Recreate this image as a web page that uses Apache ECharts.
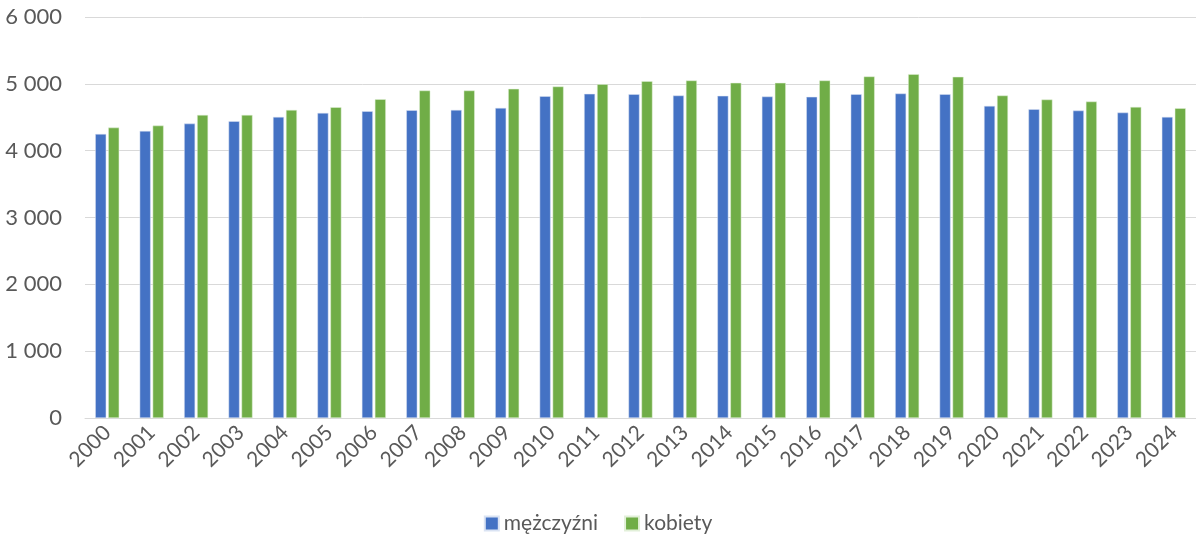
<!DOCTYPE html>
<html>
<head>
<meta charset="utf-8">
<script src="https://cdn.jsdelivr.net/npm/echarts@6/dist/echarts.min.js"></script>
<style>
    html, body { margin: 0; padding: 0; background: #fff; }
    #chart { width: 1196px; height: 542px; }
</style>
</head>
<body>
<div id="chart"></div>
<script>
// years on the x axis
var years = ['2000', '2001', '2002', '2003', '2004', '2005', '2006', '2007', '2008', '2009',
    '2010', '2011', '2012', '2013', '2014', '2015', '2016', '2017', '2018', '2019',
    '2020', '2021', '2022', '2023', '2024'];

// values
var men = [4250, 4295, 4405, 4440, 4505, 4565, 4590, 4605, 4610, 4640,
    4815, 4850, 4845, 4825, 4820, 4810, 4805, 4845, 4855, 4845,
    4670, 4620, 4600, 4570, 4505];
var women = [4345, 4375, 4535, 4535, 4610, 4650, 4770, 4900, 4900, 4925,
    4960, 4995, 5040, 5050, 5015, 5015, 5050, 5110, 5145, 5105,
    4825, 4765, 4735, 4655, 4635];

var chart = echarts.init(document.getElementById('chart'));

var option = {
    animation: false,
    textStyle: { fontFamily: 'Lato, "Noto Sans", sans-serif' },
    grid: { left: 85, right: 0, top: 17, bottom: 124 },
    legend: {
        bottom: 3,
        left: 'center',
        itemWidth: 14,
        itemHeight: 14,
        itemGap: 26,
        icon: 'rect',
        textStyle: { fontSize: 21, color: '#595959' },
        data: ['mężczyźni', 'kobiety']
    },
    xAxis: {
        type: 'category',
        data: years,
        axisLine: { lineStyle: { color: '#D9D9D9', width: 1 } },
        axisTick: { show: false },
        axisLabel: { rotate: 45, fontSize: 21, color: '#595959', margin: 11, interval: 0 }
    },
    yAxis: {
        type: 'value',
        min: 0,
        max: 6000,
        interval: 1000,
        axisLine: { show: false },
        axisTick: { show: false },
        splitLine: { lineStyle: { color: '#D9D9D9', width: 1 } },
        axisLabel: {
            fontSize: 22,
            color: '#595959',
            margin: 23,
            formatter: function (v) {
                return String(v).replace(/\B(?=(\d{3})+(?!\d))/g, ' ');
            }
        }
    },
    series: [
        {
            name: 'mężczyźni',
            type: 'bar',
            data: men,
            barWidth: 11,
            barGap: '18%',
            itemStyle: { color: '#4472C4', borderColor: '#DAE3F3', borderWidth: 0.5 }
        },
        {
            name: 'kobiety',
            type: 'bar',
            data: women,
            barWidth: 11,
            itemStyle: { color: '#70AD47', borderColor: '#E2F0D9', borderWidth: 0.5 }
        }
    ]
};

chart.setOption(option);
</script>
</body>
</html>
